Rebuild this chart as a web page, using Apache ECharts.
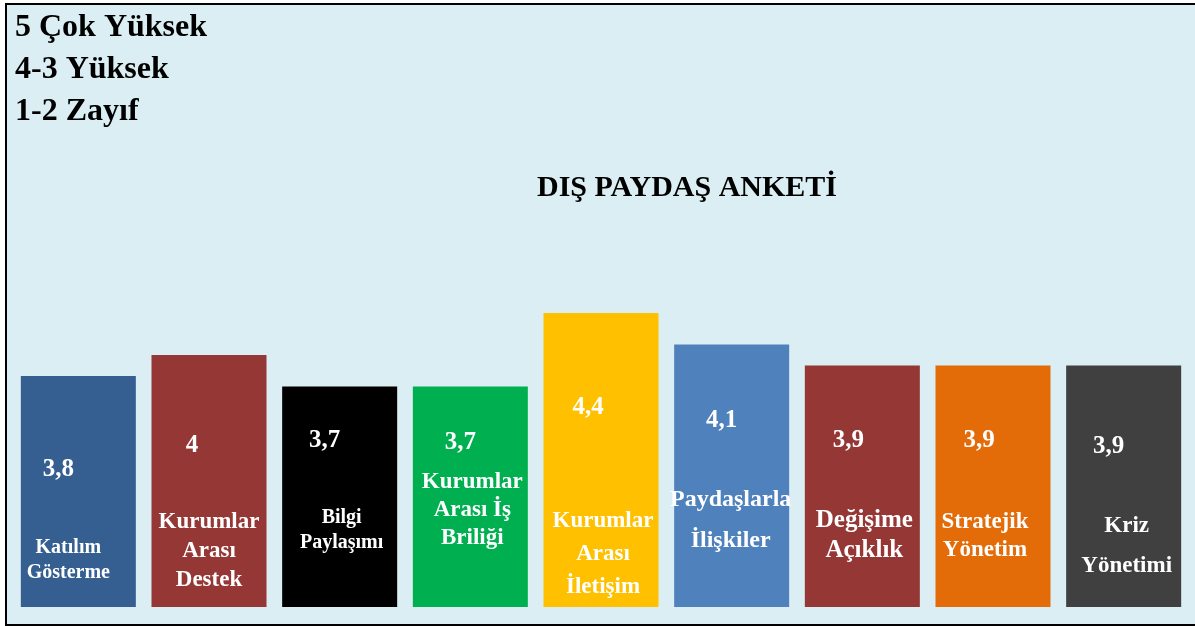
<!DOCTYPE html>
<html>
<head>
<meta charset="utf-8">
<script src="https://cdn.jsdelivr.net/npm/echarts@6/dist/echarts.min.js"></script>
<style>
html,body{margin:0;padding:0;background:#ffffff;}
#wrap{position:relative;width:1195px;height:626px;overflow:hidden;background:#ffffff;}
#box{position:absolute;left:5px;top:3px;width:1200px;height:619px;border:2px solid #000;background:#DAEEF3;}
#chart{position:absolute;left:0;top:0;width:1195px;height:626px;}
</style>
</head>
<body>
<div id="wrap"><div id="box"></div><div id="chart"></div></div>
<script>
// Data
const categories = [
  "Katılım\nGösterme",
  "Kurumlar\nArası\nDestek",
  "Bilgi\nPaylaşımı",
  "Kurumlar\nArası İş\nBriliği",
  "Kurumlar\nArası\nİletişim",
  "Paydaşlarla\nİlişkiler",
  "Değişime\nAçıklık",
  "Stratejik\nYönetim",
  "Kriz\nYönetimi"
];
const scores = [3.8, 4.0, 3.7, 3.7, 4.4, 4.1, 3.9, 3.9, 3.9];
const scaleNotes = ["5 Çok Yüksek", "4-3 Yüksek", "1-2 Zayıf"];
const chartTitle = "DIŞ PAYDAŞ ANKETİ";

// Styles
const barColors = ["#355F91", "#953735", "#000000", "#00B050", "#FFC000", "#4F81BD", "#953735", "#E36C09", "#404040"];
const valueDist = [125, 149, 154, 152, 187, 174, 154, 154, 148];
const valueDx = [-20, -17, -15, -10, -13, -10, -14, -14, -15];
const nameFont = [20, 23, 20, 23, 23, 24, 25, 23, 23];
const nameLH = [25, 29, 25, 28, 33, 41, 30, 28, 40];
const nameDist = [22, 12, 52, 55, 3, 46, 41, 43, 21];
const nameDx = [-10, 0, 2, 2, 2, -1, 2, -8, 3];

const FONT = "'Liberation Serif', 'Times New Roman', serif";

const chart = echarts.init(document.getElementById('chart'), null, {renderer: 'canvas'});

const valueData = scores.map((v, i) => ({
  value: v,
  itemStyle: {color: barColors[i]},
  label: {
    distance: valueDist[i],
    offset: [valueDx[i], 0]
  }
}));
const nameData = scores.map((v, i) => ({
  value: v,
  label: {
    distance: nameDist[i],
    offset: [nameDx[i], 0],
    fontSize: nameFont[i],
    lineHeight: nameLH[i]
  }
}));

chart.setOption({
  backgroundColor: 'transparent',
  animation: false,
  title: [
    {
      text: scaleNotes.join('\n'),
      left: 10, top: 2,
      textStyle: {fontFamily: FONT, fontWeight: 'bold', fontSize: 32, lineHeight: 42, color: '#000'}
    },
    {
      text: chartTitle,
      left: 682, top: 168, textAlign: 'center',
      textStyle: {fontFamily: FONT, fontWeight: 'bold', fontSize: 30, color: '#000'}
    }
  ],
  grid: {left: 13, right: 6, top: 250, bottom: 19},
  xAxis: {
    type: 'category',
    data: categories,
    show: false
  },
  yAxis: {
    type: 'value',
    min: 1.6, max: 5,
    show: false,
    splitLine: {show: false}
  },
  series: [
    {
      type: 'bar',
      data: valueData,
      barWidth: 115,
      label: {
        show: true,
        position: 'insideBottom',
        color: '#fff',
        fontFamily: FONT,
        fontWeight: 'bold',
        fontSize: 25,
        lineHeight: 25,
        formatter: p => String(p.value).replace('.', ',')
      },
      z: 2
    },
    {
      type: 'bar',
      data: nameData,
      barWidth: 115,
      barGap: '-100%',
      itemStyle: {color: 'rgba(0,0,0,0)'},
      label: {
        show: true,
        position: 'insideBottom',
        color: '#fff',
        fontFamily: FONT,
        fontWeight: 'bold',
        align: 'center',
        formatter: p => p.name
      },
      z: 3
    }
  ]
});
</script>
</body>
</html>
